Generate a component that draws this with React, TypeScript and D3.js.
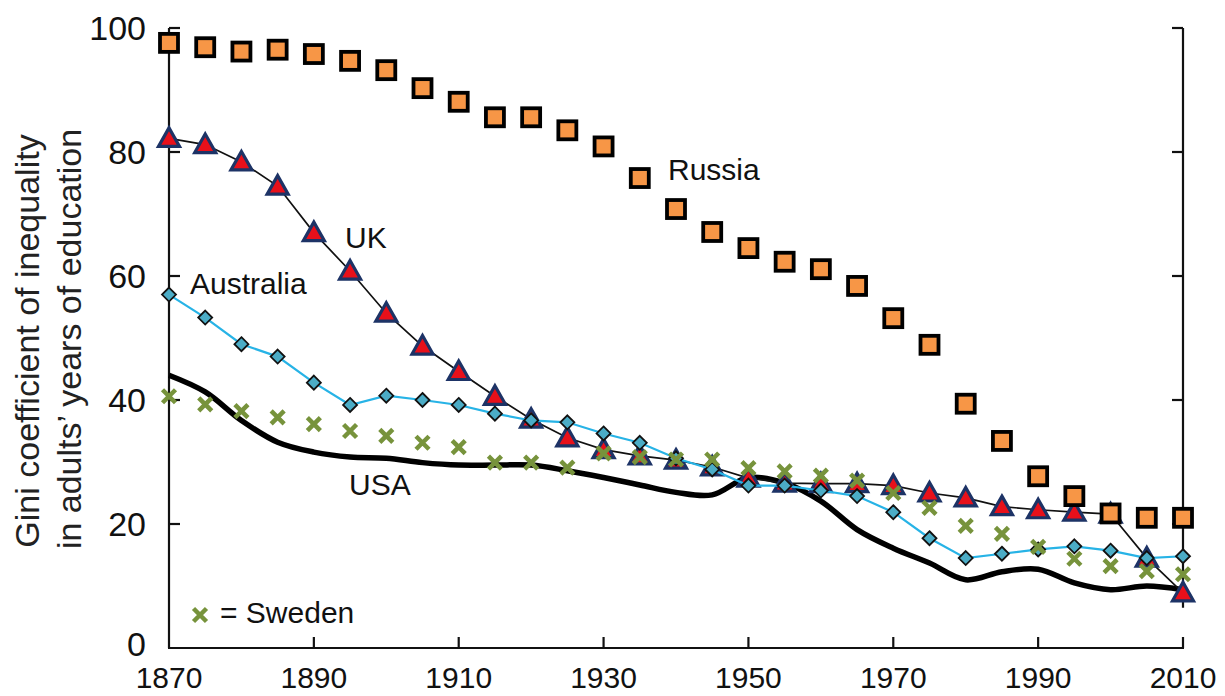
import React from "react";
import * as d3 from "d3";

const years = [1870,1875,1880,1885,1890,1895,1900,1905,1910,1915,1920,1925,1930,1935,1940,1945,1950,1955,1960,1965,1970,1975,1980,1985,1990,1995,2000,2005,2010];
const russia = [97.6,96.9,96.2,96.5,95.8,94.7,93.2,90.3,88.1,85.6,85.6,83.5,80.9,75.8,70.8,67.1,64.5,62.3,61.1,58.4,53.2,48.9,39.4,33.4,27.7,24.5,21.7,21.0,21.0];
const uk = [82.2,81.2,78.4,74.5,67.0,60.8,54.0,48.7,44.6,40.6,36.9,33.9,32.0,31.0,30.3,29.2,27.4,26.6,26.5,26.5,26.2,25.0,24.2,22.8,22.3,21.9,21.6,14.5,8.9];
const australia = [57.0,53.3,49.0,47.0,42.8,39.2,40.7,40.0,39.2,37.8,36.7,36.4,34.6,33.1,30.6,28.8,26.2,26.2,25.4,24.5,21.9,17.7,14.5,15.2,15.9,16.4,15.7,14.5,14.8];
const usa = [44.0,41.3,36.7,33.2,31.6,30.8,30.6,29.9,29.5,29.5,29.5,28.6,27.5,26.3,25.1,24.7,27.5,26.6,23.7,19.1,16.1,13.7,11.0,12.3,12.7,10.5,9.4,10.0,9.4];
const sweden = [40.6,39.3,38.2,37.2,36.1,35.0,34.2,33.1,32.4,29.9,29.9,29.1,31.4,30.8,30.4,30.4,29.0,28.5,27.8,27.0,25.0,22.6,19.7,18.4,16.3,14.4,13.2,12.4,11.9];

const xTicks = [1870,1890,1910,1930,1950,1970,1990,2010];
const yTicks = [0,20,40,60,80,100];
const yTitle = ["Gini coefficient of inequality", "in adults\u2019 years of education"];

const FONT = "'Liberation Sans', Arial, Helvetica, sans-serif";

export default function App() {
  const W = 1225, H = 696;
  const x = d3.scaleLinear().domain([1870, 2010]).range([169, 1183]);
  const y = d3.scaleLinear().domain([0, 100]).range([648, 28]);
  const pts = (vals: number[]) => years.map((yr, i) => [yr, vals[i]] as [number, number]);
  const line = d3.line<[number, number]>().x(d => x(d[0])).y(d => y(d[1]));
  const usaLine = d3.line<[number, number]>().x(d => x(d[0])).y(d => y(d[1])).curve(d3.curveCatmullRom.alpha(0.5));

  const tri = "M0,-11.5 L10.5,7 L-10.5,7 Z";
  const cross = "M-6.5,-6.5 L6.5,6.5 M6.5,-6.5 L-6.5,6.5";
  const diamond = "M0,-7 L7,0 L0,7 L-7,0 Z";

  const x0 = x(1870), x1 = x(2010), yb = y(0), yt = y(100);
  const tl = 11;

  return (
    <svg width={W} height={H} style={{ position: "absolute", left: 0, top: 0, background: "#fff" }} fontFamily={FONT}>
      <g stroke="#111" strokeWidth={2.2} fill="none">
        <line x1={x0} y1={yt} x2={x0} y2={yb} />
        <line x1={x0 - 1} y1={yb} x2={x1 + 1} y2={yb} />
        <line x1={x1} y1={yt} x2={x1} y2={y(6.5)} />
        {yTicks.filter(t => t > 0).map(t => (
          <g key={"yt" + t}>
            <line x1={x0} y1={y(t)} x2={x0 + tl} y2={y(t)} />
            <line x1={x1} y1={y(t)} x2={x1 - tl} y2={y(t)} />
          </g>
        ))}
        {xTicks.filter(t => t > 1870).map(t => (
          <line key={"xt" + t} x1={x(t)} y1={yb} x2={x(t)} y2={yb - tl} />
        ))}
      </g>
      <g fill="#111" fontSize={34} textAnchor="end">
        {yTicks.map(t => (
          <text key={"yl" + t} x={146} y={y(t) - (t === 0 ? 4 : 0)} dy="0.36em">{t}</text>
        ))}
      </g>
      <g fill="#111" fontSize={30} textAnchor="middle">
        {xTicks.map(t => (
          <text key={"xl" + t} x={x(t)} y={688}>{t}</text>
        ))}
      </g>
      <g fill="#222" fontSize={34} textAnchor="middle">
        <text transform={`translate(39,341) rotate(-90)`}>{yTitle[0]}</text>
        <text transform={`translate(81,339) rotate(-90)`}>{yTitle[1]}</text>
      </g>

      <path d={usaLine(pts(usa)) || ""} fill="none" stroke="#000" strokeWidth={5.5} strokeLinejoin="round" />

      <path d={line(pts(uk)) || ""} fill="none" stroke="#111" strokeWidth={1.7} />
      {pts(uk).map((d, i) => (
        <path key={"uk" + i} d={tri} transform={`translate(${x(d[0])},${y(d[1]) + 1})`} fill="#e8101a" stroke="#1d3366" strokeWidth={3.2} strokeLinejoin="miter" />
      ))}

      <path d={line(pts(australia)) || ""} fill="none" stroke="#27b3e6" strokeWidth={2.2} />
      {pts(australia).map((d, i) => (
        <path key={"au" + i} d={diamond} transform={`translate(${x(d[0])},${y(d[1])})`} fill="#4bacc6" stroke="#111" strokeWidth={1.8} />
      ))}

      {pts(sweden).map((d, i) => (
        <path key={"se" + i} d={cross} transform={`translate(${x(d[0])},${y(d[1])})`} fill="none" stroke="#77933c" strokeWidth={4.5} />
      ))}

      {pts(russia).map((d, i) => (
        <rect key={"ru" + i} x={x(d[0]) - 9} y={y(d[1]) - 9} width={18} height={18} fill="#f79646" stroke="#000" strokeWidth={3.8} />
      ))}

      <g fill="#111" fontSize={30}>
        <text x={668} y={180}>Russia</text>
        <text x={345} y={248}>UK</text>
        <text x={190} y={294}>Australia</text>
        <text x={349} y={495}>USA</text>
        <path d={cross} transform="translate(200,615)" fill="none" stroke="#77933c" strokeWidth={4.5} />
        <text x={220} y={623}>= Sweden</text>
      </g>
    </svg>
  );
}
